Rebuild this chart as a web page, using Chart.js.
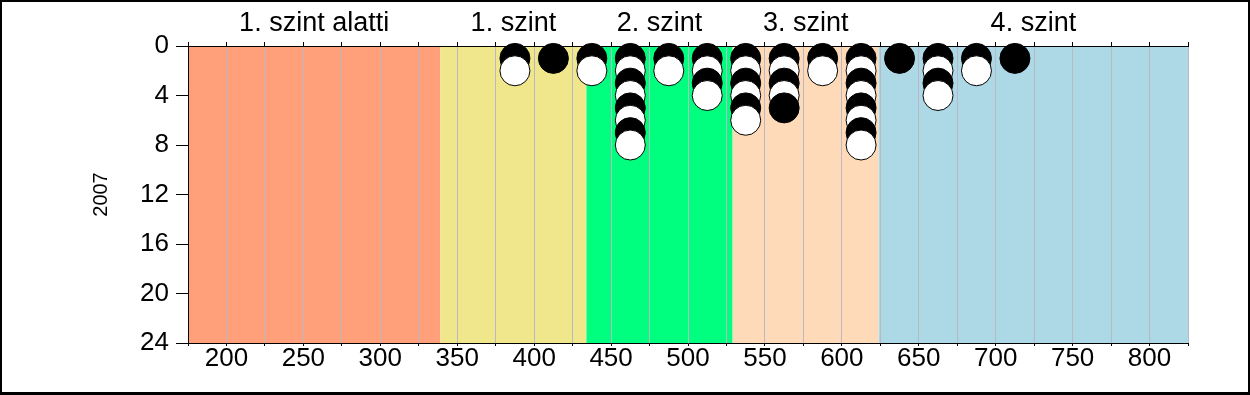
<!DOCTYPE html>
<html>
<head>
<meta charset="utf-8">
<script src="https://cdn.jsdelivr.net/npm/chart.js@4"></script>
<style>
  html, body { margin: 0; padding: 0; background: #fff; }
  #wrap { width: 1250px; height: 395px; }
</style>
</head>
<body>
<div id="wrap"><canvas id="dotChart" width="1250" height="395"></canvas></div>
<script>
// score bins (centre of each 25-point bin) and how many dots are stacked in it
const binCenters = [387.5, 412.5, 437.5, 462.5, 487.5, 512.5, 537.5, 562.5, 587.5, 612.5, 637.5, 662.5, 687.5, 712.5];
const binCounts  = [2, 1, 2, 8, 2, 4, 6, 5, 2, 8, 1, 4, 2, 1];

// level bands
const levelNames  = ['1. szint alatti', '1. szint', '2. szint', '3. szint', '4. szint'];
const levelBounds = [175, 339, 434, 529, 624, 825];
const levelColors = ['#FFA07A', '#F0E68C', '#00FF7F', '#FFDAB9', '#ADD8E6'];

const yTicks = [0, 4, 8, 12, 16, 20, 24];
const yearLabel = '2007';

const font = 'Arial, "Liberation Sans", sans-serif';

// build the stacked dots, each new one drawn over the previous
const points = [];
const fills = [];
binCenters.forEach((x, i) => {
    for (let k = 1; k <= binCounts[i]; k++) {
        points.push({ x: x, y: k });
        fills.push(k % 2 === 1 ? '#000000' : '#ffffff');
    }
});

const levelCenters = levelNames.map((_, i) => (levelBounds[i] + levelBounds[i + 1]) / 2);

// colored level bands behind the grid
const bandsPlugin = {
    id: 'bands',
    beforeDraw(chart) {
        const { ctx, chartArea, scales } = chart;
        const xs = scales.x;
        ctx.save();
        for (let i = 0; i < levelColors.length; i++) {
            const x0 = xs.getPixelForValue(levelBounds[i]);
            const x1 = xs.getPixelForValue(levelBounds[i + 1]);
            ctx.fillStyle = levelColors[i];
            ctx.fillRect(x0, chartArea.top, x1 - x0, chartArea.bottom - chartArea.top);
        }
        ctx.restore();
    },
    afterDraw(chart) {
        // outer frame
        const ctx = chart.ctx;
        ctx.save();
        ctx.fillStyle = '#000';
        ctx.fillRect(0, 0, 1250, 2);
        ctx.fillRect(0, 0, 2, 395);
        ctx.fillRect(1248, 0, 2, 395);
        ctx.fillRect(0, 392, 1250, 3);
        ctx.restore();
    }
};

new Chart(document.getElementById('dotChart').getContext('2d'), {
    type: 'scatter',
    data: {
        datasets: [{
            data: points,
            pointRadius: 15,
            pointBackgroundColor: fills,
            pointBorderColor: '#000',
            pointBorderWidth: 1,
            clip: false
        }]
    },
    options: {
        responsive: false,
        animation: false,
        events: [],
        layout: { padding: { left: 0, right: 62, top: 0, bottom: 0 } },
        plugins: {
            legend: { display: false },
            tooltip: { enabled: false }
        },
        scales: {
            x: {
                type: 'linear',
                position: 'bottom',
                min: 175,
                max: 825,
                afterFit: s => { s.height = 52; },
                grid: {
                    color: '#b9b9c6',
                    tickColor: '#000',
                    tickLength: 3
                },
                border: { color: '#000', width: 1 },
                ticks: {
                    stepSize: 25,
                    autoSkip: false,
                    maxRotation: 0,
                    padding: 0,
                    color: '#000',
                    font: { family: font, size: 26, lineHeight: 1 },
                    callback: v => (v % 50 === 0 ? String(v) : '')
                }
            },
            x3: {
                type: 'linear',
                position: 'top',
                weight: 0,
                min: 175,
                max: 825,
                afterFit: s => { s.height = 4; },
                grid: { drawOnChartArea: false, tickColor: '#000', tickLength: 4 },
                border: { color: '#000', width: 1 },
                ticks: { stepSize: 25, display: false }
            },
            x2: {
                type: 'linear',
                position: 'top',
                weight: 1,
                min: 175,
                max: 825,
                afterFit: s => { s.height = 42; },
                afterBuildTicks: s => { s.ticks = levelCenters.map(v => ({ value: v })); },
                grid: { display: false, drawTicks: false, tickLength: 0 },
                border: { display: false },
                ticks: {
                    autoSkip: false,
                    maxRotation: 0,
                    padding: 5,
                    color: '#000',
                    font: { family: font, size: 27, lineHeight: 1 },
                    callback: (v, i) => levelNames[i]
                }
            },
            y: {
                type: 'linear',
                reverse: true,
                min: 0,
                max: 24,
                afterFit: s => { s.width = 188; },
                afterBuildTicks: s => { s.ticks = yTicks.map(v => ({ value: v })); },
                grid: { drawOnChartArea: false, tickColor: '#000', tickLength: 12 },
                border: { color: '#000', width: 1 },
                title: {
                    display: true,
                    text: yearLabel,
                    color: '#000',
                    font: { family: font, size: 20 },
                    padding: { top: 89, bottom: 0 }
                },
                ticks: {
                    padding: 7,
                    color: '#000',
                    font: { family: font, size: 26, lineHeight: 1 }
                }
            }
        }
    },
    plugins: [bandsPlugin]
});
</script>
</body>
</html>
